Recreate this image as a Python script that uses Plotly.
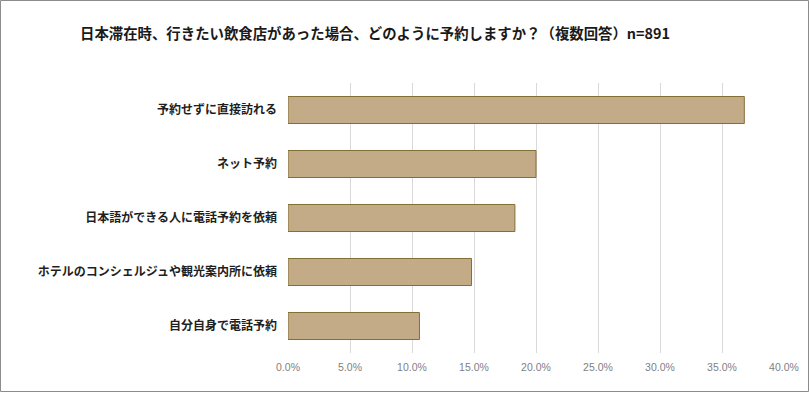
import plotly.graph_objects as go

categories = [
    "予約せずに直接訪れる",
    "ネット予約",
    "日本語ができる人に電話予約を依頼",
    "ホテルのコンシェルジュや観光案内所に依頼",
    "自分自身で電話予約",
]
values = [0.368, 0.200, 0.183, 0.148, 0.106]
tick_vals = [0, 0.05, 0.10, 0.15, 0.20, 0.25, 0.30, 0.35, 0.40]
title_text = "日本滞在時、行きたい飲食店があった場合、どのように予約しますか？（複数回答）n=891"

W, H = 810, 393
L, R, T, B = 288, 26, 83, 40
pw, ph = W - L - R, H - T - B

def px_x(p):
    return (p - L) / pw

def px_y(p):
    return 1 - (p - T) / ph

font_jp = "Noto Sans CJK JP, Noto Sans, sans-serif"

fig = go.Figure(
    go.Bar(
        x=values,
        y=categories,
        orientation="h",
        marker=dict(color="#c4ab87", line=dict(color="#846f35", width=1)),
        width=0.5,
        hoverinfo="skip",
    )
)

fig.update_layout(
    width=W,
    height=H,
    margin=dict(l=L, r=R, t=T, b=B, pad=0),
    paper_bgcolor="white",
    plot_bgcolor="white",
    showlegend=False,
    title=dict(
        text=title_text,
        x=80 / W,
        xanchor="left",
        y=1 - 34 / H,
        yanchor="middle",
        font=dict(family=font_jp, size=14.4, color="#1a1a1a", weight="bold"),
    ),
    xaxis=dict(
        range=[0, 0.40],
        tickvals=tick_vals,
        tickformat=".1%",
        showgrid=True,
        gridcolor="#d9d9d9",
        gridwidth=1,
        zeroline=False,
        showline=False,
        ticks="",
        tickfont=dict(family="Liberation Sans, Arial, sans-serif", size=10.5, color="#7f7f7f"),
        ticklabelstandoff=6,
    ),
    yaxis=dict(
        categoryorder="array",
        categoryarray=categories,
        autorange="reversed",
        showgrid=False,
        zeroline=False,
        showline=False,
        ticks="",
        ticklabelstandoff=10,
        tickfont=dict(family=font_jp, size=12, color="#1f1f1f", weight="bold"),
    ),
    shapes=[
        dict(
            type="rect",
            xref="paper",
            yref="paper",
            x0=px_x(0.5),
            x1=px_x(808.5),
            y0=px_y(0.5),
            y1=px_y(391.5),
            line=dict(color="#8c8c8c", width=1),
            fillcolor="rgba(0,0,0,0)",
            layer="below",
        )
    ],
)

fig.write_html(
    "out.html",
    config={"displayModeBar": False},
    post_script="document.body.style.margin='0';document.body.style.overflow='hidden';",
)
